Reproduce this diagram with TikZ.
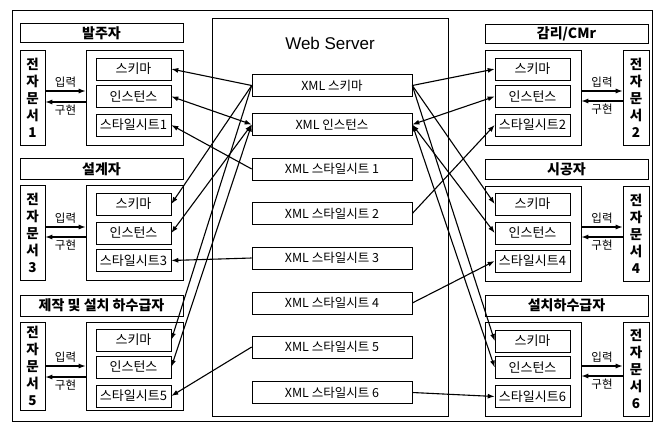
\documentclass[tikz,border=0pt]{standalone}
\usepackage{fontspec}
\setmainfont{Noto Sans CJK KR}
\newfontfamily\latinfont{Liberation Sans}
\usetikzlibrary{arrows.meta}
\tikzset{%
	box/.style      = {draw, line width=0.6pt, rectangle, inner sep=0pt},
	headbox/.style  = {box, minimum width=163pt, minimum height=19pt,
		font=\fontsize{14}{16}\selectfont\bfseries},
	docbox/.style   = {box, minimum width=25pt, minimum height=95pt, align=center,
		font=\fontsize{13.5}{17}\selectfont\bfseries}, % 전자문서
	holder/.style   = {box, minimum width=97pt, minimum height=95pt},
	part/.style     = {box, minimum width=75pt, minimum height=22pt,
		font=\fontsize{13}{15}\selectfont},
	xmlbox/.style   = {box, minimum width=160pt, minimum height=22pt,
		font=\fontsize{12.5}{14}\selectfont},
	link/.style     = {line width=1.1pt, -{Latex[length=7pt,width=5pt]}},
	dual/.style     = {line width=1.1pt, {Latex[length=7pt,width=5pt]}-{Latex[length=7pt,width=5pt]}},
	io/.style       = {line width=1.2pt, -{Latex[length=7pt,width=5pt]}},
	iolabel/.style  = {font=\fontsize{11.5}{13}\selectfont, inner sep=2.5pt}
}

\begin{document}
\begin{tikzpicture}[x=1pt,y=-1pt]
	\useasboundingbox (0,0) rectangle (664,423);
	\draw[line width=0.7pt] (12,10) rectangle (652,421);

	% server in the middle
	\node[box, line width=0.7pt, minimum width=236pt, minimum height=398pt] (server) at (330,217) {};
	\node[font=\latinfont\fontsize{17}{19}\selectfont] (srvname) at (330,43) {Web Server};
	\node[xmlbox] (xskm)  at (332,85.5)  {XML 스키마};
	\node[xmlbox] (xinst) at (332,124.5) {XML 인스턴스};
	\node[xmlbox] (xsty1) at (332,169)   {XML 스타일시트 1};
	\node[xmlbox] (xsty2) at (332,213.5) {XML 스타일시트 2};
	\node[xmlbox] (xsty3) at (332,258)   {XML 스타일시트 3};
	\node[xmlbox] (xsty4) at (332,303)   {XML 스타일시트 4};
	\node[xmlbox] (xsty5) at (332,347)   {XML 스타일시트 5};
	\node[xmlbox] (xsty6) at (332,392.5) {XML 스타일시트 6};

	% left column
	\node[headbox] (head1) at (101.5,33)  {발주자};
	\node[docbox]  (doc1)  at (32.5,97.5) {전\\자\\문\\서\\1};
	\node[holder]  (grp1)  at (134.5,97.5) {};
	\node[part]    (skm1)  at (133.5,69)   {스키마};
	\node[part]    (inst1) at (133.5,96.5) {인스턴스};
	\node[part]    (sty1)  at (133.5,125)  {스타일시트1};

	\node[headbox, minimum height=21pt] (head3) at (101.5,169) {설계자};
	\node[docbox]  (doc3)  at (32.5,232.5) {전\\자\\문\\서\\3};
	\node[holder]  (grp3)  at (134.5,232.5) {};
	\node[part]    (skm3)  at (133.5,204)   {스키마};
	\node[part]    (inst3) at (133.5,233)   {인스턴스};
	\node[part]    (sty3)  at (133.5,260.5) {스타일시트3};

	\node[headbox, minimum height=21pt] (head5) at (101.5,305.5) {제작 및 설치 하수급자};
	\node[docbox, minimum height=88pt] (doc5) at (32.5,366) {전\\자\\문\\서\\5};
	\node[holder, minimum height=88pt] (grp5) at (134.5,366) {};
	\node[part]    (skm5)  at (133.5,340) {스키마};
	\node[part]    (inst5) at (133.5,367) {인스턴스};
	\node[part]    (sty5)  at (133.5,396) {스타일시트5};

	% right column
	\node[headbox] (head2) at (566.5,34)  {감리/CMr};
	\node[docbox, minimum width=26pt] (doc2) at (636,97.5) {전\\자\\문\\서\\2};
	\node[holder, minimum width=96pt] (grp2) at (533,97.5) {};
	\node[part]    (skm2)  at (532.5,69)   {스키마};
	\node[part]    (inst2) at (532.5,96.5) {인스턴스};
	\node[part]    (sty2)  at (532.5,125)  {스타일시트2};

	\node[headbox, minimum height=20pt] (head4) at (566.5,169.5) {시공자};
	\node[docbox, minimum width=26pt] (doc4) at (636,233.5) {전\\자\\문\\서\\4};
	\node[holder, minimum width=96pt] (grp4) at (533,233.5) {};
	\node[part]    (skm4)  at (532.5,204) {스키마};
	\node[part]    (inst4) at (532.5,233) {인스턴스};
	\node[part]    (sty4)  at (532.5,261) {스타일시트4};

	\node[headbox, minimum height=21pt] (head6) at (566.5,305.5) {설치하수급자};
	\node[docbox, minimum width=26pt, minimum height=94pt] (doc6) at (636,369) {전\\자\\문\\서\\6};
	\node[holder, minimum width=96pt, minimum height=94pt] (grp6) at (533,369) {};
	\node[part]    (skm6)  at (532.5,341)   {스키마};
	\node[part]    (inst6) at (532.5,367.5) {인스턴스};
	\node[part]    (sty6)  at (532.5,396.5) {스타일시트6};

	% 입력 / 구현
	\draw[io] ([yshift=6.5pt]doc1.east) -- node[iolabel,above] {입력} ([yshift=6.5pt]grp1.west);
	\draw[io] ([yshift=-4.5pt]grp1.west) -- node[iolabel,below] {구현} ([yshift=-4.5pt]doc1.east);
	\draw[io] ([yshift=5.5pt]doc3.east) -- node[iolabel,above] {입력} ([yshift=5.5pt]grp3.west);
	\draw[io] ([yshift=-4.5pt]grp3.west) -- node[iolabel,below] {구현} ([yshift=-4.5pt]doc3.east);
	\draw[io] ([yshift=0pt]doc5.east) -- node[iolabel,above] {입력} ([yshift=0pt]grp5.west);
	\draw[io] ([yshift=-11pt]grp5.west) -- node[iolabel,below] {구현} ([yshift=-11pt]doc5.east);

	\draw[io] ([yshift=6.5pt]grp2.east) -- node[iolabel,above] {입력} ([yshift=6.5pt]doc2.west);
	\draw[io] ([yshift=-3.5pt]doc2.west) -- node[iolabel,below] {구현} ([yshift=-3.5pt]grp2.east);
	\draw[io] ([yshift=6.5pt]grp4.east) -- node[iolabel,above] {입력} ([yshift=6.5pt]doc4.west);
	\draw[io] ([yshift=-3.5pt]doc4.west) -- node[iolabel,below] {구현} ([yshift=-3.5pt]grp4.east);
	\draw[io] ([yshift=3pt]grp6.east) -- node[iolabel,above] {입력} ([yshift=3pt]doc6.west);
	\draw[io] ([yshift=-7pt]doc6.west) -- node[iolabel,below] {구현} ([yshift=-7pt]grp6.east);

	% schema, instance and stylesheet links
	\draw[link] (xskm.west)  -- (skm1.east);
	\draw[link] (xskm.west)  -- (skm3.east);
	\draw[link] (xskm.west)  -- (skm5.east);
	\draw[link] (xskm.east)  -- (skm2.west);
	\draw[link] (xskm.east)  -- (skm4.west);
	\draw[link] (xskm.east)  -- (skm6.west);
	\draw[dual] (xinst.west) -- (inst1.east);
	\draw[dual] (xinst.west) -- (inst3.east);
	\draw[dual] (xinst.west) -- (inst5.east);
	\draw[dual] (xinst.east) -- (inst2.west);
	\draw[dual] (xinst.east) -- (inst4.west);
	\draw[dual] (xinst.east) -- (inst6.west);
	\draw[link] (xsty1.west) -- (sty1.east);
	\draw[link] (xsty2.east) -- (sty2.west);
	\draw[link] (xsty3.west) -- (sty3.east);
	\draw[link] (xsty4.east) -- (sty4.west);
	\draw[link] (xsty5.west) -- (sty5.east);
	\draw[link] (xsty6.east) -- (sty6.west);
\end{tikzpicture}
\end{document}
